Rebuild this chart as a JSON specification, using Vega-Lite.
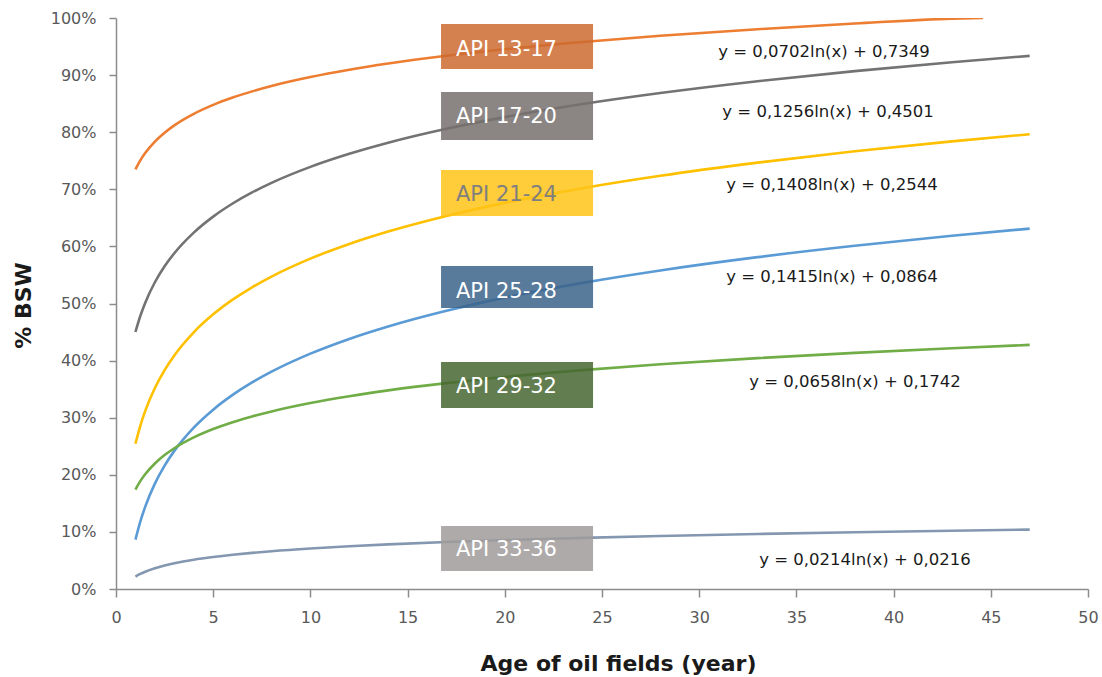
{
  "$schema": "https://vega.github.io/schema/vega-lite/v6.json",
  "width": 972,
  "height": 571,
  "autosize": {"type": "none"},
  "padding": {"left": 116, "top": 18, "right": 14, "bottom": 88},
  "background": "white",
  "config": {"view": {"stroke": null}, "font": "DejaVu Sans"},
  "datasets": {
    "curves": [
      {"key": "api13_17", "x": 1, "value": 0.7349}, {"key": "api13_17", "x": 1.25, "value": 0.7506}, {"key": "api13_17", "x": 1.5, "value": 0.7634}, {"key": "api13_17", "x": 2, "value": 0.7836}, {"key": "api13_17", "x": 2.5, "value": 0.7992}, {"key": "api13_17", "x": 3, "value": 0.8120}, {"key": "api13_17", "x": 4, "value": 0.8322}, {"key": "api13_17", "x": 5, "value": 0.8479}, {"key": "api13_17", "x": 6, "value": 0.8607}, {"key": "api13_17", "x": 7, "value": 0.8715}, {"key": "api13_17", "x": 8, "value": 0.8809}, {"key": "api13_17", "x": 10, "value": 0.8965}, {"key": "api13_17", "x": 12, "value": 0.9093}, {"key": "api13_17", "x": 14, "value": 0.9202}, {"key": "api13_17", "x": 17, "value": 0.9338}, {"key": "api13_17", "x": 20, "value": 0.9452}, {"key": "api13_17", "x": 24, "value": 0.9580}, {"key": "api13_17", "x": 28, "value": 0.9688}, {"key": "api13_17", "x": 33, "value": 0.9804}, {"key": "api13_17", "x": 38, "value": 0.9903}, {"key": "api13_17", "x": 43, "value": 0.9989}, {"key": "api13_17", "x": 44.6, "value": 1.0},
      {"key": "api17_20", "x": 1, "value": 0.4501}, {"key": "api17_20", "x": 1.25, "value": 0.4781}, {"key": "api17_20", "x": 1.5, "value": 0.5010}, {"key": "api17_20", "x": 2, "value": 0.5372}, {"key": "api17_20", "x": 2.5, "value": 0.5652}, {"key": "api17_20", "x": 3, "value": 0.5881}, {"key": "api17_20", "x": 4, "value": 0.6242}, {"key": "api17_20", "x": 5, "value": 0.6522}, {"key": "api17_20", "x": 6, "value": 0.6751}, {"key": "api17_20", "x": 7, "value": 0.6945}, {"key": "api17_20", "x": 8, "value": 0.7113}, {"key": "api17_20", "x": 10, "value": 0.7393}, {"key": "api17_20", "x": 12, "value": 0.7622}, {"key": "api17_20", "x": 14, "value": 0.7816}, {"key": "api17_20", "x": 17, "value": 0.8060}, {"key": "api17_20", "x": 20, "value": 0.8264}, {"key": "api17_20", "x": 24, "value": 0.8493}, {"key": "api17_20", "x": 28, "value": 0.8686}, {"key": "api17_20", "x": 33, "value": 0.8893}, {"key": "api17_20", "x": 38, "value": 0.9070}, {"key": "api17_20", "x": 43, "value": 0.9225}, {"key": "api17_20", "x": 47, "value": 0.9337},
      {"key": "api21_24", "x": 1, "value": 0.2544}, {"key": "api21_24", "x": 1.25, "value": 0.2858}, {"key": "api21_24", "x": 1.5, "value": 0.3115}, {"key": "api21_24", "x": 2, "value": 0.3520}, {"key": "api21_24", "x": 2.5, "value": 0.3834}, {"key": "api21_24", "x": 3, "value": 0.4091}, {"key": "api21_24", "x": 4, "value": 0.4496}, {"key": "api21_24", "x": 5, "value": 0.4810}, {"key": "api21_24", "x": 6, "value": 0.5067}, {"key": "api21_24", "x": 7, "value": 0.5284}, {"key": "api21_24", "x": 8, "value": 0.5472}, {"key": "api21_24", "x": 10, "value": 0.5786}, {"key": "api21_24", "x": 12, "value": 0.6043}, {"key": "api21_24", "x": 14, "value": 0.6260}, {"key": "api21_24", "x": 17, "value": 0.6533}, {"key": "api21_24", "x": 20, "value": 0.6762}, {"key": "api21_24", "x": 24, "value": 0.7019}, {"key": "api21_24", "x": 28, "value": 0.7236}, {"key": "api21_24", "x": 33, "value": 0.7467}, {"key": "api21_24", "x": 38, "value": 0.7666}, {"key": "api21_24", "x": 43, "value": 0.7840}, {"key": "api21_24", "x": 47, "value": 0.7965},
      {"key": "api25_28", "x": 1, "value": 0.0864}, {"key": "api25_28", "x": 1.25, "value": 0.1180}, {"key": "api25_28", "x": 1.5, "value": 0.1438}, {"key": "api25_28", "x": 2, "value": 0.1845}, {"key": "api25_28", "x": 2.5, "value": 0.2161}, {"key": "api25_28", "x": 3, "value": 0.2419}, {"key": "api25_28", "x": 4, "value": 0.2826}, {"key": "api25_28", "x": 5, "value": 0.3141}, {"key": "api25_28", "x": 6, "value": 0.3399}, {"key": "api25_28", "x": 7, "value": 0.3617}, {"key": "api25_28", "x": 8, "value": 0.3806}, {"key": "api25_28", "x": 10, "value": 0.4122}, {"key": "api25_28", "x": 12, "value": 0.4380}, {"key": "api25_28", "x": 14, "value": 0.4598}, {"key": "api25_28", "x": 17, "value": 0.4873}, {"key": "api25_28", "x": 20, "value": 0.5103}, {"key": "api25_28", "x": 24, "value": 0.5361}, {"key": "api25_28", "x": 28, "value": 0.5579}, {"key": "api25_28", "x": 33, "value": 0.5812}, {"key": "api25_28", "x": 38, "value": 0.6011}, {"key": "api25_28", "x": 43, "value": 0.6186}, {"key": "api25_28", "x": 47, "value": 0.6312},
      {"key": "api29_32", "x": 1, "value": 0.1742}, {"key": "api29_32", "x": 1.25, "value": 0.1889}, {"key": "api29_32", "x": 1.5, "value": 0.2009}, {"key": "api29_32", "x": 2, "value": 0.2198}, {"key": "api29_32", "x": 2.5, "value": 0.2345}, {"key": "api29_32", "x": 3, "value": 0.2465}, {"key": "api29_32", "x": 4, "value": 0.2654}, {"key": "api29_32", "x": 5, "value": 0.2801}, {"key": "api29_32", "x": 6, "value": 0.2921}, {"key": "api29_32", "x": 7, "value": 0.3022}, {"key": "api29_32", "x": 8, "value": 0.3110}, {"key": "api29_32", "x": 10, "value": 0.3257}, {"key": "api29_32", "x": 12, "value": 0.3377}, {"key": "api29_32", "x": 14, "value": 0.3479}, {"key": "api29_32", "x": 17, "value": 0.3606}, {"key": "api29_32", "x": 20, "value": 0.3713}, {"key": "api29_32", "x": 24, "value": 0.3833}, {"key": "api29_32", "x": 28, "value": 0.3935}, {"key": "api29_32", "x": 33, "value": 0.4043}, {"key": "api29_32", "x": 38, "value": 0.4136}, {"key": "api29_32", "x": 43, "value": 0.4217}, {"key": "api29_32", "x": 47, "value": 0.4275},
      {"key": "api33_36", "x": 1, "value": 0.0216}, {"key": "api33_36", "x": 1.25, "value": 0.0264}, {"key": "api33_36", "x": 1.5, "value": 0.0303}, {"key": "api33_36", "x": 2, "value": 0.0364}, {"key": "api33_36", "x": 2.5, "value": 0.0412}, {"key": "api33_36", "x": 3, "value": 0.0451}, {"key": "api33_36", "x": 4, "value": 0.0513}, {"key": "api33_36", "x": 5, "value": 0.0560}, {"key": "api33_36", "x": 6, "value": 0.0599}, {"key": "api33_36", "x": 7, "value": 0.0632}, {"key": "api33_36", "x": 8, "value": 0.0661}, {"key": "api33_36", "x": 10, "value": 0.0709}, {"key": "api33_36", "x": 12, "value": 0.0748}, {"key": "api33_36", "x": 14, "value": 0.0781}, {"key": "api33_36", "x": 17, "value": 0.0822}, {"key": "api33_36", "x": 20, "value": 0.0857}, {"key": "api33_36", "x": 24, "value": 0.0896}, {"key": "api33_36", "x": 28, "value": 0.0929}, {"key": "api33_36", "x": 33, "value": 0.0964}, {"key": "api33_36", "x": 38, "value": 0.0994}, {"key": "api33_36", "x": 43, "value": 0.1021}, {"key": "api33_36", "x": 47, "value": 0.1040}
    ],
    "labels": [
      {"key": "api13_17", "label": "API 13-17", "bx1": 16.72, "bx2": 24.54, "by1": 0.9107, "by2": 0.9895, "tx": 17.49, "ty": 0.944, "eq": "y = 0,0702ln(x) + 0,7349", "ex": 36.42, "ey": 0.9405},
      {"key": "api17_20", "label": "API 17-20", "bx1": 16.72, "bx2": 24.54, "by1": 0.7863, "by2": 0.8704, "tx": 17.49, "ty": 0.8266, "eq": "y = 0,1256ln(x) + 0,4501", "ex": 36.63, "ey": 0.8354},
      {"key": "api21_24", "label": "API 21-24", "bx1": 16.72, "bx2": 24.54, "by1": 0.6532, "by2": 0.7338, "tx": 17.49, "ty": 0.690, "eq": "y = 0,1408ln(x) + 0,2544", "ex": 36.83, "ey": 0.7075},
      {"key": "api25_28", "label": "API 25-28", "bx1": 16.72, "bx2": 24.54, "by1": 0.4921, "by2": 0.5657, "tx": 17.49, "ty": 0.520, "eq": "y = 0,1415ln(x) + 0,0864", "ex": 36.83, "ey": 0.5464},
      {"key": "api29_32", "label": "API 29-32", "bx1": 16.72, "bx2": 24.54, "by1": 0.3170, "by2": 0.3975, "tx": 17.49, "ty": 0.354, "eq": "y = 0,0658ln(x) + 0,1742", "ex": 38.01, "ey": 0.3625},
      {"key": "api33_36", "label": "API 33-36", "bx1": 16.72, "bx2": 24.54, "by1": 0.0315, "by2": 0.1103, "tx": 17.49, "ty": 0.0683, "eq": "y = 0,0214ln(x) + 0,0216", "ex": 38.53, "ey": 0.0508}
    ]
  },
  "layer": [
    {
      "data": {"name": "curves"},
      "mark": {"type": "line", "interpolate": "monotone", "clip": true},
      "encoding": {
        "x": {
          "field": "x", "type": "quantitative",
          "scale": {"domain": [0, 50], "nice": false},
          "axis": {
            "title": "Age of oil fields (year)",
            "values": [0, 5, 10, 15, 20, 25, 30, 35, 40, 45, 50],
            "grid": false,
            "labelFlush": false,
            "domainColor": "#8c8c8c", "domainWidth": 1.5,
            "tickColor": "#8c8c8c", "tickWidth": 1.5, "tickSize": 8,
            "labelFont": "DejaVu Sans", "labelFontSize": 16, "labelColor": "#595959", "labelPadding": 12,
            "titleFont": "DejaVu Sans", "titleFontSize": 22, "titleFontWeight": "bold", "titleColor": "#1a1a1a",
            "titleX": 502, "titleY": 74, "titleAlign": "center", "titleBaseline": "middle"
          }
        },
        "y": {
          "field": "value", "type": "quantitative",
          "scale": {"domain": [0, 1], "nice": false},
          "axis": {
            "title": "% BSW",
            "values": [0, 0.1, 0.2, 0.3, 0.4, 0.5, 0.6, 0.7, 0.8, 0.9, 1],
            "format": ".0%",
            "grid": false,
            "labelFlush": false,
            "domainColor": "#8c8c8c", "domainWidth": 1.5,
            "tickColor": "#8c8c8c", "tickWidth": 1.5, "tickSize": 7,
            "labelFont": "DejaVu Sans", "labelFontSize": 16, "labelColor": "#595959", "labelPadding": 13,
            "titleFont": "DejaVu Sans", "titleFontSize": 22, "titleFontWeight": "bold", "titleColor": "#1a1a1a",
            "titleX": -93, "titleY": 287, "titleAngle": 270, "titleAlign": "center", "titleBaseline": "middle"
          }
        },
        "stroke": {
          "field": "key", "type": "nominal",
          "scale": {"domain": ["api13_17", "api17_20", "api21_24", "api25_28", "api29_32", "api33_36"], "range": ["#ED7D31", "#737373", "#FFC000", "#5B9BD5", "#70AD47", "#8497B0"]},
          "legend": null
        },
        "strokeWidth": {
          "field": "key", "type": "nominal",
          "scale": {"domain": ["api13_17", "api17_20", "api21_24", "api25_28", "api29_32", "api33_36"], "range": [2.6, 2.6, 2.6, 1.2, 2.6, 2.6]},
          "legend": null
        }
      }
    },
    {
      "data": {"name": "labels"},
      "mark": {"type": "rect", "opacity": 0.85},
      "encoding": {
        "x": {"field": "bx1", "type": "quantitative"},
        "x2": {"field": "bx2"},
        "y": {"field": "by1", "type": "quantitative"},
        "y2": {"field": "by2"},
        "fill": {
          "field": "key", "type": "nominal",
          "scale": {"domain": ["api13_17", "api17_20", "api21_24", "api25_28", "api29_32", "api33_36"], "range": ["#CC6A30", "#77716F", "#FFC317", "#3B6389", "#466631", "#A09B9A"]},
          "legend": null
        }
      }
    },
    {
      "data": {"name": "labels"},
      "mark": {"type": "text", "align": "left", "baseline": "middle", "font": "DejaVu Sans", "fontSize": 21},
      "encoding": {
        "x": {"field": "tx", "type": "quantitative"},
        "y": {"field": "ty", "type": "quantitative"},
        "text": {"field": "label"},
        "color": {
          "field": "key", "type": "nominal",
          "scale": {"domain": ["api13_17", "api17_20", "api21_24", "api25_28", "api29_32", "api33_36"], "range": ["#FFFFFF", "#FFFFFF", "#7F7F7F", "#FFFFFF", "#FFFFFF", "#FFFFFF"]},
          "legend": null
        }
      }
    },
    {
      "data": {"name": "labels"},
      "mark": {"type": "text", "align": "center", "baseline": "middle", "font": "DejaVu Sans", "fontSize": 16.5, "color": "#1a1a1a"},
      "encoding": {
        "x": {"field": "ex", "type": "quantitative"},
        "y": {"field": "ey", "type": "quantitative"},
        "text": {"field": "eq"}
      }
    }
  ]
}
